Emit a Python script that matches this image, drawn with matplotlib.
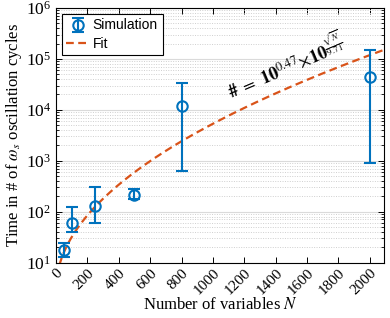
import numpy as np
import matplotlib.pyplot as plt
from matplotlib.ticker import LogLocator, NullFormatter

plt.rcParams['font.family'] = ['Liberation Serif', 'DejaVu Serif']
plt.rcParams['mathtext.fontset'] = 'stix'

# simulation results
N = np.array([50, 100, 250, 500, 800, 2000])
cycles = np.array([17.6, 59, 129, 212, 12000, 45000])
err_hi = np.array([24.5, 121, 300, 275, 33000, 150000])
err_lo = np.array([13, 40, 60, 174, 630, 910])

# fit: 10^0.47 * 10^(sqrt(N)/9.71)
a_fit = 0.47
b_fit = 9.71
N_fit = np.linspace(0, 2090, 400)
fit = 10**a_fit * 10**(np.sqrt(N_fit) / b_fit)

blue = '#0072BD'
orange = '#D95319'

fig = plt.figure(figsize=(3.9, 3.18), dpi=100)
ax = fig.add_axes([0.1436, 0.1745, 0.8410, 0.8003])

sim = ax.errorbar(N, cycles, yerr=[cycles - err_lo, err_hi - cycles], fmt='o', color=blue,
                  mfc='none', ms=7.5, mew=1.5, elinewidth=1.5, capsize=4.5, capthick=1.5,
                  label='Simulation', zorder=3)
fl, = ax.plot(N_fit, fit, '--', color=orange, lw=1.6, dashes=(3.5, 2), label='Fit', zorder=2)

ax.set_yscale('log')
ax.set_xlim(0, 2090)
ax.set_ylim(10, 1e6)
ax.set_xticks(np.arange(0, 2001, 200))
ax.yaxis.set_major_locator(LogLocator(base=10, numticks=10))
ax.yaxis.set_minor_locator(LogLocator(base=10, subs=np.arange(2, 10), numticks=50))
ax.yaxis.set_minor_formatter(NullFormatter())

ax.grid(True, which='major', axis='y', color='#dadada', lw=0.8)
ax.grid(True, which='minor', axis='y', color='#cfcfcf', lw=0.7, ls=(0, (1, 1.5)))
ax.set_axisbelow(True)

ax.tick_params(which='both', direction='in', top=True, right=True, labelsize=12.5)
ax.tick_params(which='major', length=4, width=0.7)
ax.tick_params(which='minor', length=2, width=0.6)
ax.tick_params(axis='x', labelsize=11, pad=3)
for lbl in ax.get_xticklabels():
    lbl.set_rotation(45)
    lbl.set_ha('right')
    lbl.set_va('top')
    lbl.set_rotation_mode('anchor')
for s in ax.spines.values():
    s.set_linewidth(0.8)

ax.set_xlabel('Number of variables $N$', fontsize=12, labelpad=0)
ax.set_ylabel(r'Time in # of $\omega_s$ oscillation cycles', fontsize=12, labelpad=1)

ax.text(1460, 7.2e4, r'$\mathbf{\#}\ =\ \mathbf{10}^{0.47}\!\times\!\mathbf{10}^{\frac{\sqrt{N}}{9.71}}$',
        rotation=23, fontsize=13, ha='center', va='center', rotation_mode='anchor')

leg = ax.legend([sim, fl], ['Simulation', 'Fit'], loc='upper left',
                prop={'family': 'Liberation Sans', 'size': 10},
                fancybox=False, edgecolor='black', framealpha=1, borderaxespad=0.4,
                handlelength=1.6, handletextpad=0.3, borderpad=0.35, labelspacing=0.3)
leg.get_frame().set_linewidth(0.8)

fig.savefig('out.png', dpi=100)
